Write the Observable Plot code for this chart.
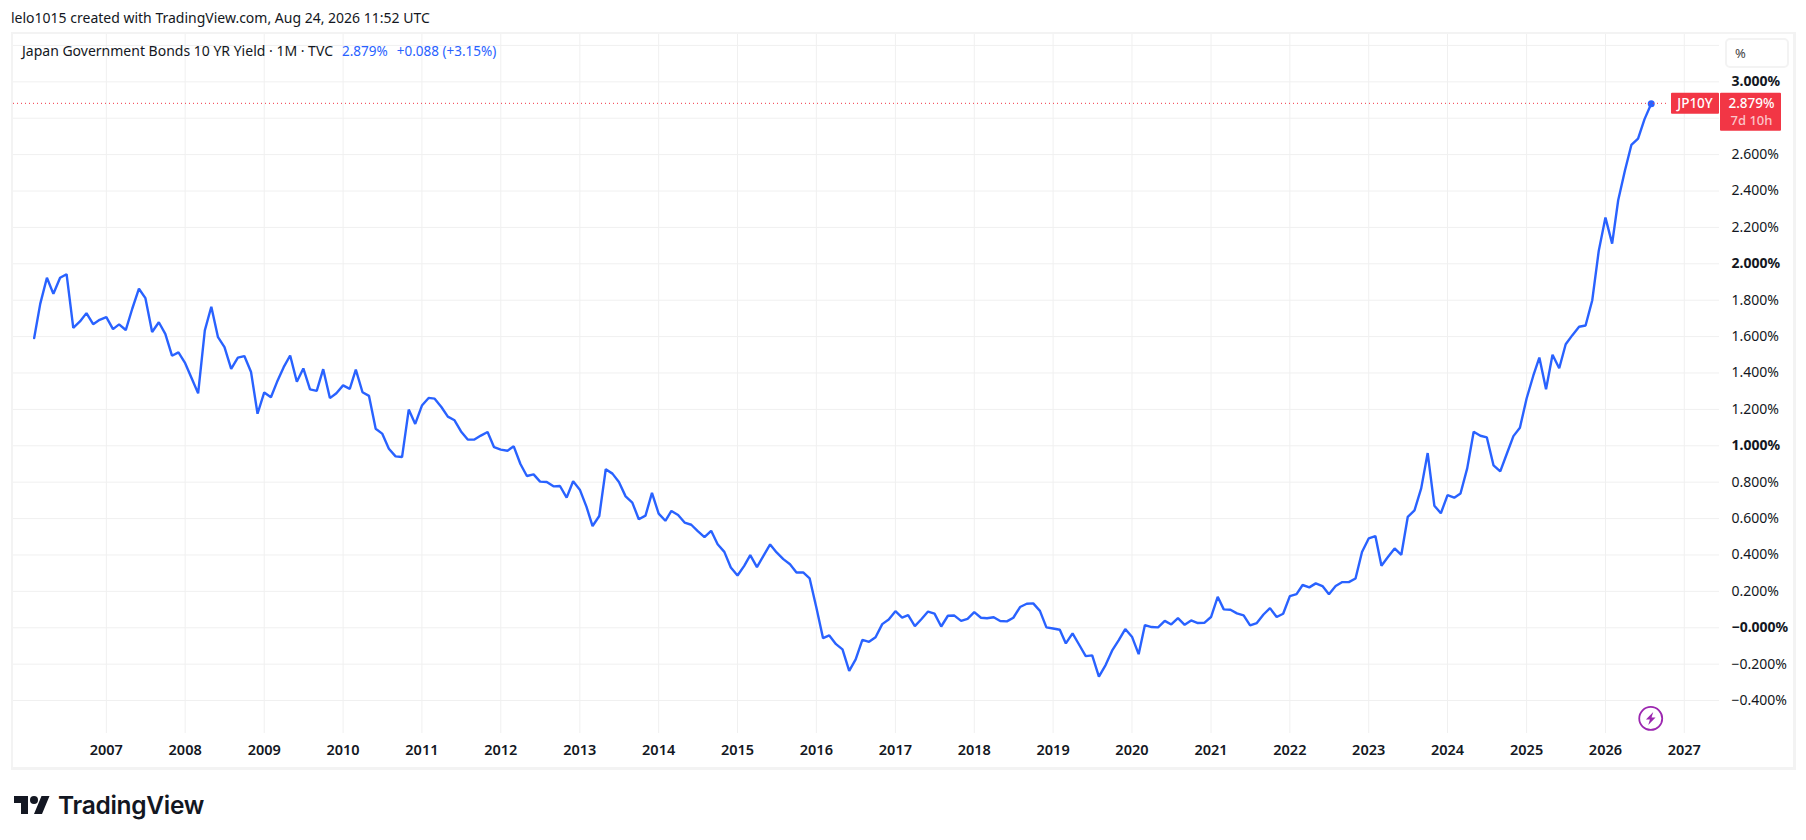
<!DOCTYPE html>
<html>
<head>
<meta charset="utf-8">
<script src="https://cdn.jsdelivr.net/npm/d3@7"></script>
<script src="https://cdn.jsdelivr.net/npm/@observablehq/plot@0.6"></script>
<style>
  html, body { margin: 0; padding: 0; background: #fff; width: 1806px; height: 840px; overflow: hidden; }
  body { position: relative; font-family: "Noto Sans", sans-serif; color: #131722; font-size: 14px; }
  #credit { position: absolute; left: 11px; top: 9px; line-height: 18px; white-space: nowrap; }
  #frame { position: absolute; left: 11px; top: 32px; width: 1780px; height: 733px; border: 2px solid #f3f3f3; border-right-width: 3px; border-bottom-width: 3px; pointer-events: none; }
  #chart { position: absolute; left: 0; top: 32px; }
  #legend { position: absolute; left: 22px; top: 42px; line-height: 18px; white-space: nowrap; }
  #legend .v { color: #2962ff; margin-left: 9px; font-size: 13.5px; }
  #unit { position: absolute; left: 1725px; top: 38px; width: 60px; height: 26px; border: 2px solid #f3f3f3; border-radius: 5px; line-height: 26px; padding-left: 0; }
  #unit span { margin-left: 8px; color: #444; font-size: 13px; }
  #logo { position: absolute; left: 14px; top: 794px; display: flex; align-items: center; color: #131722; }
  #logo b { font-family: Inter, sans-serif; font-weight: 600; font-size: 24.5px; letter-spacing: -0.3px; margin-left: 8px; line-height: 22px; }
</style>
</head>
<body>
<div id="chart"></div>
<div id="frame"></div>
<div id="credit">lelo1015 created with TradingView.com, Aug 24, 2026 11:52 UTC</div>
<div id="legend">Japan Government Bonds 10 YR Yield · 1M · TVC<span class="v">2.879%</span><span class="v">+0.088 (+3.15%)</span></div>
<div id="unit"><span>%</span></div>
<div id="logo">
  <svg width="36" height="18" viewBox="0 4 36 18"><path fill="#131722" d="M14 22H7V11H0V4h14v18zM28 22h-8l7.5-18h8L28 22z"/><circle fill="#131722" cx="20" cy="8" r="4"/></svg>
  <b>TradingView</b>
</div>
<script>
const yields2006to2010 = [
  1.592,1.780,1.923,1.835,1.923,1.943,1.648,1.683,1.729,1.668,
  1.692,1.707,1.641,1.667,1.636,1.753,1.863,1.811,1.625,1.679,
  1.615,1.495,1.513,1.454,1.368,1.288,1.634,1.764,1.597,1.542,
  1.423,1.484,1.493,1.405,1.176,1.293,1.267,1.350,1.432,1.496,
  1.352,1.425,1.310,1.302,1.421,1.262,1.289,1.332,1.313,1.418];
const yields2010to2014 = [
  1.294,1.274,1.094,1.067,0.984,0.942,0.938,1.199,1.120,1.221,
  1.263,1.259,1.213,1.160,1.140,1.079,1.034,1.034,1.056,1.076,
  0.992,0.979,0.973,0.997,0.900,0.834,0.843,0.803,0.801,0.777,
  0.779,0.715,0.805,0.759,0.664,0.559,0.614,0.871,0.847,0.801,
  0.722,0.688,0.596,0.616,0.741,0.627,0.588,0.642,0.620,0.578];
const yields2014to2018 = [
  0.566,0.531,0.498,0.533,0.459,0.417,0.331,0.287,0.340,0.399,
  0.333,0.395,0.458,0.414,0.377,0.349,0.304,0.304,0.271,0.111,
  -0.057,-0.042,-0.090,-0.119,-0.237,-0.174,-0.066,-0.077,-0.052,0.020,
  0.045,0.091,0.056,0.069,0.009,0.047,0.089,0.078,0.007,0.066,
  0.067,0.038,0.049,0.086,0.055,0.052,0.058,0.037,0.035,0.055];
const yields2018to2022 = [
  0.114,0.132,0.134,0.093,0.002,-0.004,-0.011,-0.086,-0.031,-0.092,
  -0.156,-0.152,-0.269,-0.205,-0.126,-0.068,-0.007,-0.049,-0.145,0.015,
  0.004,0.002,0.038,0.018,0.053,0.016,0.040,0.026,0.027,0.059,
  0.170,0.101,0.099,0.079,0.068,0.013,0.026,0.073,0.108,0.059,
  0.077,0.174,0.185,0.235,0.222,0.244,0.229,0.184,0.229,0.251];
const yields2022to2026 = [
  0.251,0.271,0.416,0.491,0.504,0.341,0.390,0.436,0.401,0.610,
  0.645,0.766,0.960,0.671,0.629,0.729,0.715,0.738,0.876,1.077,
  1.055,1.046,0.892,0.859,0.955,1.053,1.099,1.260,1.385,1.485,
  1.311,1.500,1.426,1.558,1.608,1.654,1.661,1.800,2.071,2.254,
  2.111,2.349,2.511,2.653,2.688,2.795,2.879];

const values = [...yields2006to2010, ...yields2010to2014, ...yields2014to2018, ...yields2018to2022, ...yields2022to2026];
const months = d3.utcMonth.range(new Date(Date.UTC(2006, 1, 1)), new Date(Date.UTC(2006, 1 + values.length, 1)));
const series = months.map((date, i) => ({date, value: values[i]}));

const yearTicks = d3.range(2007, 2028).map(y => new Date(Date.UTC(y, 0, 1)));
const gridValues = [-0.4,-0.2,0,0.2,0.4,0.6,0.8,1,1.2,1.4,1.6,1.8,2,2.2,2.4,2.6,2.8,3,3.2];
const plainLabels = [-0.4,-0.2,0.2,0.4,0.6,0.8,1.2,1.4,1.6,1.8,2.2,2.4,2.6];
const boldLabels = [0,1,2,3];
const xDomain = [new Date(Date.UTC(2005, 9, 19)), new Date(Date.UTC(2027, 5, 13))];
const yDomain = [-0.581, 3.26];
const last = series[series.length - 1];
const BLUE = "#2962ff", RED = "#f23645", GRID = "#f0f0f0";
const pct = v => (v <= 0 ? "\u2212" : "") + Math.abs(v).toFixed(3) + "%";

function overlay(index, {x, y}, values, {width, marginRight}) {
  const g = d3.create("svg:g").attr("font-family", "Noto Sans, sans-serif").attr("font-size", 13.5);
  const right = width - marginRight;
  const py = y(last.value);
  g.append("line").attr("x1", 13).attr("x2", right - 50).attr("y1", py).attr("y2", py)
    .attr("stroke", RED).attr("stroke-dasharray", "1 3");
  g.append("rect").attr("x", right - 48).attr("y", py - 10.5).attr("width", 48).attr("height", 21).attr("rx", 1).attr("fill", RED);
  g.append("text").attr("x", right - 24).attr("y", py).attr("dy", "0.35em").attr("text-anchor", "middle").attr("fill", "#fff").attr("font-weight", 500).text("JP10Y");
  g.append("rect").attr("x", right + 1).attr("y", py - 10.5).attr("width", 61).attr("height", 38).attr("rx", 1).attr("fill", RED);
  g.append("text").attr("x", right + 32.5).attr("y", py).attr("dy", "0.35em").attr("text-anchor", "middle").attr("fill", "#fff").attr("font-weight", 500).text(pct(last.value));
  g.append("text").attr("x", right + 32.5).attr("y", py + 17).attr("dy", "0.35em").attr("text-anchor", "middle").attr("fill", "#fff").attr("fill-opacity", 0.72).attr("font-weight", 500).attr("font-size", 13).text("7d 10h");
  // Lightning marker beneath the last bar
  const bx = x(last.date), by = y(-0.501);
  g.append("circle").attr("cx", bx).attr("cy", by).attr("r", 11.5).attr("fill", "#fff").attr("stroke", "#9c27b0").attr("stroke-width", 1.8);
  g.append("path").attr("transform", `translate(${bx},${by})`).attr("fill", "#9c27b0").attr("d", "M2.5 -6.5 L-4.8 1 L-0.8 1 L-2.5 6.5 L4.8 -1 L0.8 -1 Z");
  return g.node();
}

const plot = Plot.plot({
  width: 1806,
  height: 736,
  marginLeft: 11,
  marginRight: 87,
  marginTop: 2,
  marginBottom: 35,
  style: {fontFamily: "Noto Sans, sans-serif", fontSize: "14px", color: "#131722", background: "transparent"},
  x: {type: "utc", domain: xDomain},
  y: {domain: yDomain},
  marks: [
    Plot.ruleY(gridValues, {stroke: GRID, strokeWidth: 1}),
    Plot.ruleX(yearTicks, {stroke: GRID, strokeWidth: 1}),
    Plot.axisY({anchor: "right", ticks: plainLabels, tickSize: 0, tickPadding: 12, label: null, tickFormat: pct, fontSize: 14, fill: "#131722"}),
    Plot.axisY({anchor: "right", ticks: boldLabels, tickSize: 0, tickPadding: 12, label: null, tickFormat: pct, fontSize: 14, fontWeight: 700, fill: "#131722"}),
    Plot.axisX({anchor: "bottom", ticks: yearTicks, tickSize: 0, tickPadding: 11, label: null, tickFormat: d3.utcFormat("%Y"), fontSize: 14.5, fontWeight: 600, fill: "#131722"}),
    Plot.line(series, {x: "date", y: "value", stroke: BLUE, strokeWidth: 2.4, curve: "linear", strokeLinejoin: "miter"}),
    Plot.dot([last], {x: "date", y: "value", r: 3.5, fill: BLUE}),
    overlay
  ]
});
document.getElementById("chart").appendChild(plot);
</script>
</body>
</html>
